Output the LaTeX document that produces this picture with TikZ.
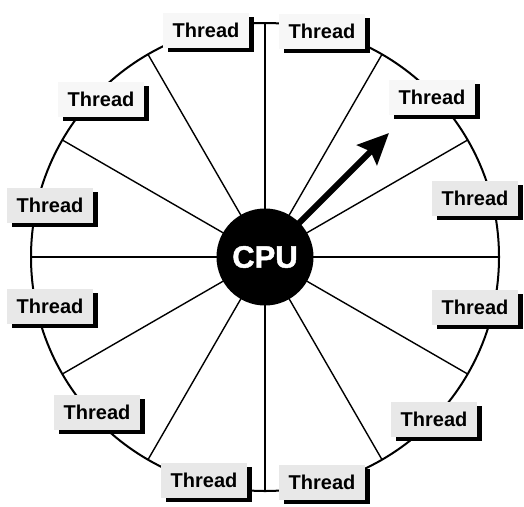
\documentclass[tikz,border=0pt]{standalone}
\usepackage{fontspec}
\setmainfont{Liberation Sans}
\newfontfamily\cpufont[FakeBold=1.5]{Liberation Sans Bold}
\usetikzlibrary{shadows,arrows.meta,calc}
\begin{document}
\begin{tikzpicture}[x=1pt,y=-1pt,
  thread/.style={rectangle, minimum width=86pt, minimum height=35pt, inner sep=0pt,
    font=\bfseries\fontsize{20}{24}\selectfont, fill=gray!18,
    drop shadow={shadow xshift=4.5pt, shadow yshift=-4.5pt, fill=black, opacity=1}},
  pale/.style={fill=gray!6},
  spoke/.style={line width=1.4pt},
  rim/.style={line width=2pt},
  cpubox/.style={circle, fill=black, minimum size=97pt, inner sep=0pt,
    text=white, font=\cpufont\fontsize{31}{31}\selectfont},
  pointer/.style={line width=6pt, -{Stealth[length=31pt, width=28pt, inset=5pt]}}
]
\useasboundingbox (0,0) rectangle (524,506);
\fill[white] (0,0) rectangle (524,506);

\coordinate (c) at (265,257);

% spokes out to the rim
\foreach \a in {0,30,...,330}
  \coordinate (r\a) at ($(c)+(\a:234)$);
\foreach \a in {0,30,...,330}
  \draw[spoke] (c) -- (r\a);

% rim
\draw[rim] (c) circle[radius=234];

% pointer towards the running thread
\coordinate (tip) at (389,133);
\draw[pointer] (c) -- (tip);

% processor
\node[cpubox] (cpu) at (c) {CPU};

% threads round the rim
\node[thread,pale] (t1)  at (206,30)  {Thread};
\node[thread,pale] (t2)  at (322,31)  {Thread};
\node[thread,pale] (t3)  at (101,99)  {Thread};
\node[thread,pale] (t4)  at (432,97)  {Thread};
\node[thread] (t5)  at (50,205)  {Thread};
\node[thread] (t6)  at (475,198) {Thread};
\node[thread] (t7)  at (50,306)  {Thread};
\node[thread] (t8)  at (475,307) {Thread};
\node[thread] (t9)  at (97,412)  {Thread};
\node[thread] (t10) at (434,419) {Thread};
\node[thread] (t11) at (204,480) {Thread};
\node[thread] (t12) at (322,482) {Thread};
\end{tikzpicture}
\end{document}
